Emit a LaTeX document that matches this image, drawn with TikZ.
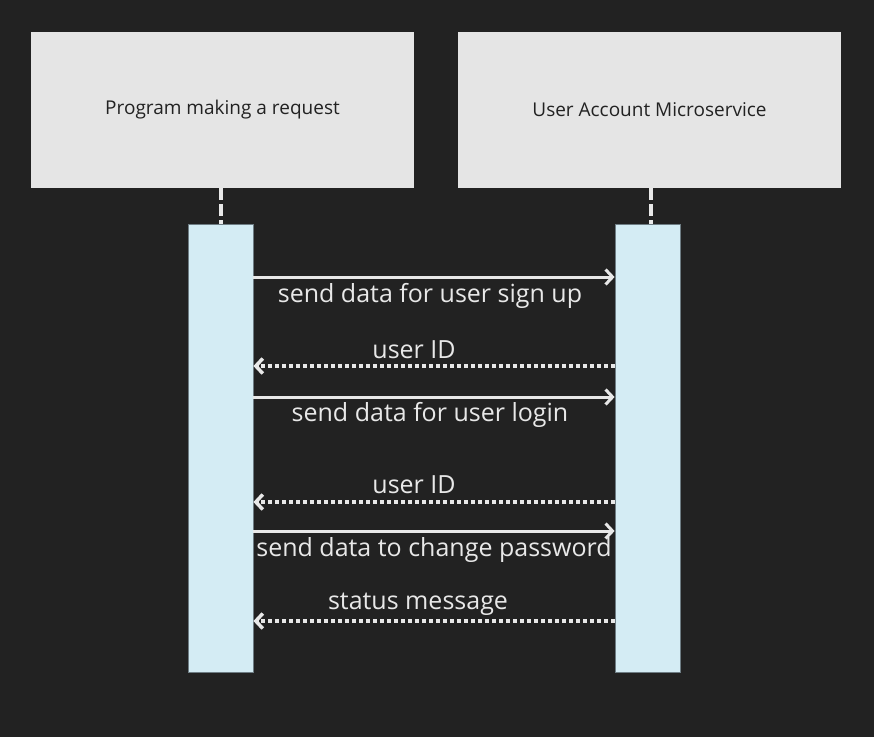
\documentclass[tikz,border=0pt]{standalone}
\usepackage{fontspec}
\setmainfont{Open Sans}
\usetikzlibrary{arrows.meta, positioning}
\definecolor{bgdark}{RGB}{34,34,34}
\definecolor{headgray}{RGB}{229,229,229}
\definecolor{barblue}{RGB}{212,236,244}
\definecolor{linegray}{RGB}{232,232,232}
\definecolor{barline}{RGB}{110,125,132}

\begin{document}
\begin{tikzpicture}[x=1pt, y=-1pt,
  head/.style={fill=headgray, minimum width=383pt, minimum height=156pt, inner sep=0pt,
               font=\fontsize{19}{23}\selectfont, text=bgdark},
  actbar/.style={draw=barline, line width=0.8pt, fill=barblue, minimum width=65pt,
                 minimum height=448pt, inner sep=0pt},
  life/.style={linegray, line width=4pt, dash pattern=on 12pt off 4pt},
  call/.style={linegray, line width=3pt, -{Straight Barb[length=7pt, width=15pt]}},
  reply/.style={linegray, line width=3.5pt, dash pattern=on 4pt off 3pt,
                -{Straight Barb[length=7pt, width=15pt]}},
  lbl/.style={text=linegray, font=\fontsize{25}{29}\selectfont, inner sep=0pt},
]
% background
\fill[bgdark] (0,0) rectangle (874,737);

% participants
\node[head] (prog) at (222.5,110) {Program making a request};
\node[head] (uams) at (649.5,110) {User Account Microservice};

% activation bars
\node[actbar] (pbar) at (220.5,448) {};
\node[actbar] (ubar) at (647.5,448) {};

% lifelines
\draw[life] (prog.south -| pbar.north) -- (pbar.north);
\draw[life] (uams.south -| ubar.north) ++(3.5,0) -- ([xshift=3.5pt]ubar.north);

% messages
\draw[call] (pbar.east |- 0,277) -- (ubar.west |- 0,277)
  node[lbl, midway, anchor=north, yshift=-5pt, xshift=-4pt] {send data for user sign up};
\draw[reply] (ubar.west |- 0,366) -- (pbar.east |- 0,366)
  node[lbl, midway, anchor=base, yshift=8pt, xshift=-20pt] {user ID};
\draw[call] (pbar.east |- 0,397) -- (ubar.west |- 0,397)
  node[lbl, midway, anchor=north, yshift=-4pt, xshift=-4pt] {send data for user login};
\draw[reply] (ubar.west |- 0,502) -- (pbar.east |- 0,502)
  node[lbl, midway, anchor=base, yshift=9pt, xshift=-20pt] {user ID};
\draw[call] (pbar.east |- 0,531) -- (ubar.west |- 0,531)
  node[lbl, midway, anchor=north, yshift=-5pt] {send data to change password};
\draw[reply] (ubar.west |- 0,621) -- (pbar.east |- 0,621)
  node[lbl, midway, anchor=base, yshift=12pt, xshift=-16pt] {status message};
\end{tikzpicture}
\end{document}
